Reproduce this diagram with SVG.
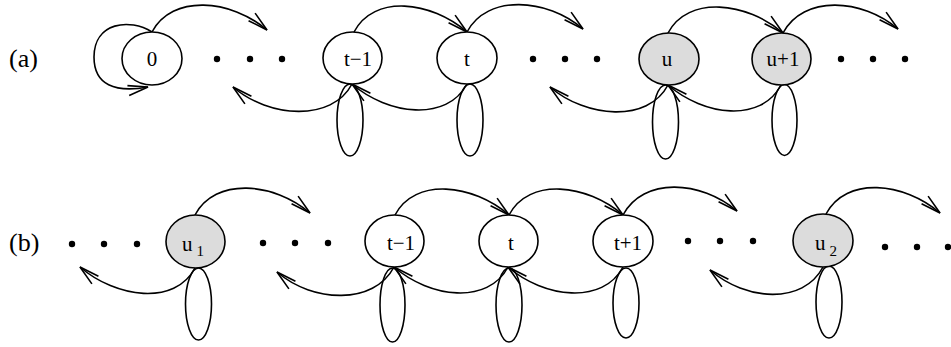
<svg xmlns="http://www.w3.org/2000/svg" width="951" height="347" viewBox="0 0 951 347">
<style>
.e{stroke:#000;stroke-width:1.6;fill:none}
.a{stroke:#000;stroke-width:1.6;fill:none;marker-end:url(#ah)}
.n{stroke:#000;stroke-width:1.6;fill:#fff}
.g{stroke:#000;stroke-width:1.6;fill:#dcdcdc}
text{font-family:"Liberation Serif","Times New Roman",serif;font-size:21px;fill:#000;text-anchor:middle}
.lab{font-size:26px;text-anchor:start}
.sub{font-size:15px}
.d{fill:#000}
</style>
<defs>
<marker id="ah" viewBox="-22 -8 24 16" markerWidth="24" markerHeight="16" refX="0" refY="0" orient="auto" markerUnits="userSpaceOnUse">
<path d="M-20,-5 L0,0 L-20,5" fill="none" stroke="#000" stroke-width="1.6"/>
</marker>
</defs>
<rect width="951" height="347" fill="#fff"/>
<text class="lab" x="9" y="67">(a)</text>
<text class="lab" x="9" y="251">(b)</text>
<g id="connectors">
<path class="a" d="M152,32 C 130,18 94,22 94,57 C 94,85 115,93 148,87"/>
<path class="a" d="M152,32 C172,-6 231,-1 267,30"/>
<path class="a" d="M354,32 C374,-6 431,1 467,32"/>
<path class="a" d="M467,32 C487,-6 547,-2 583,29"/>
<path class="a" d="M668,33 C688,-5 747,2 783,33"/>
<path class="a" d="M783,33 C803,-5 862,-2 898,29"/>
<path class="a" d="M352,84 C332,122 269,118 233,87"/>
<path class="a" d="M467,84 C447,122 388,115 352,84"/>
<path class="a" d="M668,85 C648,123 586,118 550,87"/>
<path class="a" d="M781,85 C761,123 704,116 668,85"/>
<ellipse class="e" cx="350" cy="120" rx="13" ry="36"/>
<ellipse class="e" cx="470" cy="120" rx="13" ry="36"/>
<ellipse class="e" cx="665.5" cy="122" rx="13" ry="37"/>
<ellipse class="e" cx="784.5" cy="120" rx="12.5" ry="35.5"/>
<path class="a" d="M195,215 C215,177 274,182 310,213"/>
<path class="a" d="M395,215 C415,177 473,184 509,215"/>
<path class="a" d="M509,215 C529,177 587,184 623,215"/>
<path class="a" d="M623,215 C643,177 701,180 737,211"/>
<path class="a" d="M826,214 C846,176 904,182 940,213"/>
<path class="a" d="M195,268 C175,306 116,298 80,267"/>
<path class="a" d="M394,267 C374,305 313,303 277,272"/>
<path class="a" d="M508,267 C488,305 430,298 394,267"/>
<path class="a" d="M623,267 C603,305 544,298 508,267"/>
<path class="a" d="M823,267 C803,305 746,301 710,270"/>
<ellipse class="e" cx="198.5" cy="304" rx="13" ry="36"/>
<ellipse class="e" cx="392.5" cy="305" rx="12.5" ry="37"/>
<ellipse class="e" cx="509" cy="305" rx="13" ry="37"/>
<ellipse class="e" cx="626" cy="303" rx="13" ry="35"/>
<ellipse class="e" cx="829" cy="302" rx="13" ry="36"/>
</g>
<g id="dots">
<circle class="d" cx="217" cy="59" r="3.2"/><circle class="d" cx="250" cy="59" r="3.2"/><circle class="d" cx="282" cy="59" r="3.2"/>
<circle class="d" cx="533" cy="59" r="3.2"/><circle class="d" cx="565" cy="59" r="3.2"/><circle class="d" cx="597" cy="59" r="3.2"/>
<circle class="d" cx="841" cy="59" r="3.2"/><circle class="d" cx="873" cy="59" r="3.2"/><circle class="d" cx="905" cy="59" r="3.2"/>
<circle class="d" cx="72" cy="244" r="3.2"/><circle class="d" cx="104" cy="244" r="3.2"/><circle class="d" cx="137" cy="244" r="3.2"/>
<circle class="d" cx="263" cy="243" r="3.2"/><circle class="d" cx="295" cy="243" r="3.2"/><circle class="d" cx="328" cy="243" r="3.2"/>
<circle class="d" cx="688" cy="241" r="3.2"/><circle class="d" cx="720" cy="241" r="3.2"/><circle class="d" cx="753" cy="241" r="3.2"/>
<circle class="d" cx="885" cy="247" r="3.2"/><circle class="d" cx="917" cy="247" r="3.2"/><circle class="d" cx="948" cy="247" r="3.2"/>
</g>
<g id="a-0"><ellipse class="n" cx="152" cy="58.5" rx="30" ry="26.5"/><text x="152" y="65.5">0</text></g>
<g id="a-t-1"><ellipse class="n" cx="352.5" cy="58" rx="29.5" ry="26"/><text x="358" y="65.5">t−1</text></g>
<g id="a-t"><ellipse class="n" cx="467" cy="58" rx="30" ry="26"/><text x="467" y="65.5">t</text></g>
<g id="a-u"><ellipse class="g" cx="669" cy="59" rx="30" ry="26"/><text x="667" y="66">u</text></g>
<g id="a-u+1"><ellipse class="g" cx="781.5" cy="59" rx="29.5" ry="26"/><text x="783" y="66">u+1</text></g>
<g id="b-u1"><ellipse class="g" cx="195.5" cy="241.5" rx="29.5" ry="26.5"/><text x="193" y="251">u<tspan class="sub" dx="4" dy="5">1</tspan></text></g>
<g id="b-t-1"><ellipse class="n" cx="394.5" cy="241" rx="29.5" ry="26"/><text x="401" y="249.5">t−1</text></g>
<g id="b-t"><ellipse class="n" cx="508.5" cy="241" rx="29.5" ry="26"/><text x="511" y="249.5">t</text></g>
<g id="b-t+1"><ellipse class="n" cx="623" cy="241" rx="30" ry="26"/><text x="628" y="249.5">t+1</text></g>
<g id="b-u2"><ellipse class="g" cx="823" cy="240.5" rx="30" ry="26.5"/><text x="826" y="250">u<tspan class="sub" dx="4" dy="6">2</tspan></text></g>
</svg>
